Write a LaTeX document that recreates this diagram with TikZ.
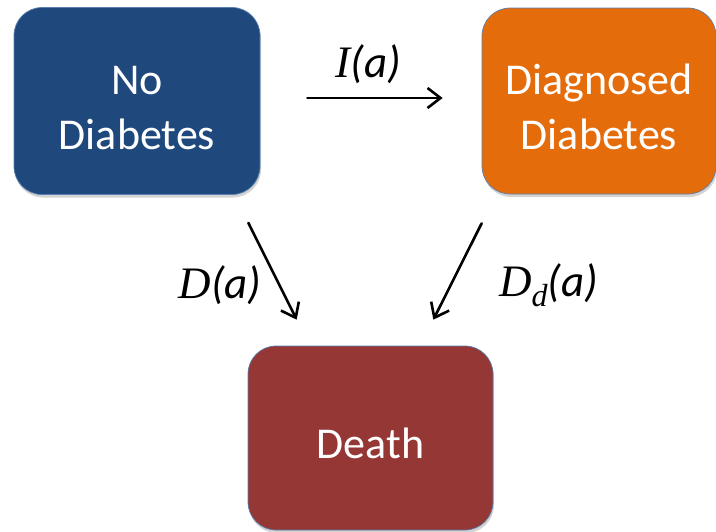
\documentclass[tikz,border=0pt]{standalone}
\usepackage{fontspec}
\setmainfont{Carlito}
\newfontfamily\ratefont{Liberation Serif}
\usepackage{tikz}
\usetikzlibrary{positioning, shadows, arrows.meta}

\definecolor{nodiabblue}{HTML}{1F497D}
\definecolor{diagorange}{HTML}{E46C0A}
\definecolor{deathred}{HTML}{953735}
\definecolor{edgeblue}{HTML}{5B7FB0}

\begin{document}
\begin{tikzpicture}[x=1pt, y=-1pt, line cap=round, line join=round,
    statebox/.style={rectangle, rounded corners=28pt, draw=edgeblue, line width=0.7pt,
        text=white, align=center, inner sep=0pt,
        font=\fontsize{44}{55}\selectfont,
        drop shadow={shadow xshift=1pt, shadow yshift=-3pt, opacity=0.35}},
    ratelabel/.style={inner sep=0pt, font=\fontsize{45}{52}\selectfont},
    ratearrow/.style={line width=2.6pt, -{Straight Barb[length=13pt, width=20pt, line width=2.6pt]}}]
                % frame of the picture
                \useasboundingbox (0,0) rectangle (716,531);
                % the three states
                \node[statebox, fill=nodiabblue, minimum width=246pt, minimum height=187pt]
                    (nodiab) at (137,101) {\rule{0pt}{42pt}No\\Diabetes};
                \node[statebox, fill=diagorange, minimum width=234pt, minimum height=186pt]
                    (diag) at (599,101) {\rule{0pt}{42pt}Diagnosed\\Diabetes};
                \node[statebox, fill=deathred, minimum width=245pt, minimum height=184pt]
                    (death) at (370.5,438) {\rule{0pt}{42pt}Death};
                % incidence
                \draw[ratearrow] ([xshift=47pt, yshift=3pt]nodiab.east) -- ([xshift=-39pt, yshift=3pt]diag.west);
                \node[ratelabel] (inc) at (368.5,64) {{\ratefont\itshape I}\textit{(a)}};
                % mortality without diabetes
                \draw[ratearrow] ([xshift=-12pt, yshift=-28pt]nodiab.south east) -- ([xshift=49pt, yshift=26pt]death.north west);
                \node[ratelabel] (mort) at (220,285) {{\ratefont\itshape D}\textit{(a)}};
                % mortality with diabetes
                \draw[ratearrow] ([yshift=-29pt]diag.south west) -- ([xshift=-60pt, yshift=26pt]death.north east);
                \node[ratelabel] (mortd) at (548.5,285) {{\ratefont\itshape D}\raisebox{-10pt}{\ratefont\itshape\fontsize{32}{34}\selectfont d}\textit{(a)}};
        \end{tikzpicture}
\end{document}
